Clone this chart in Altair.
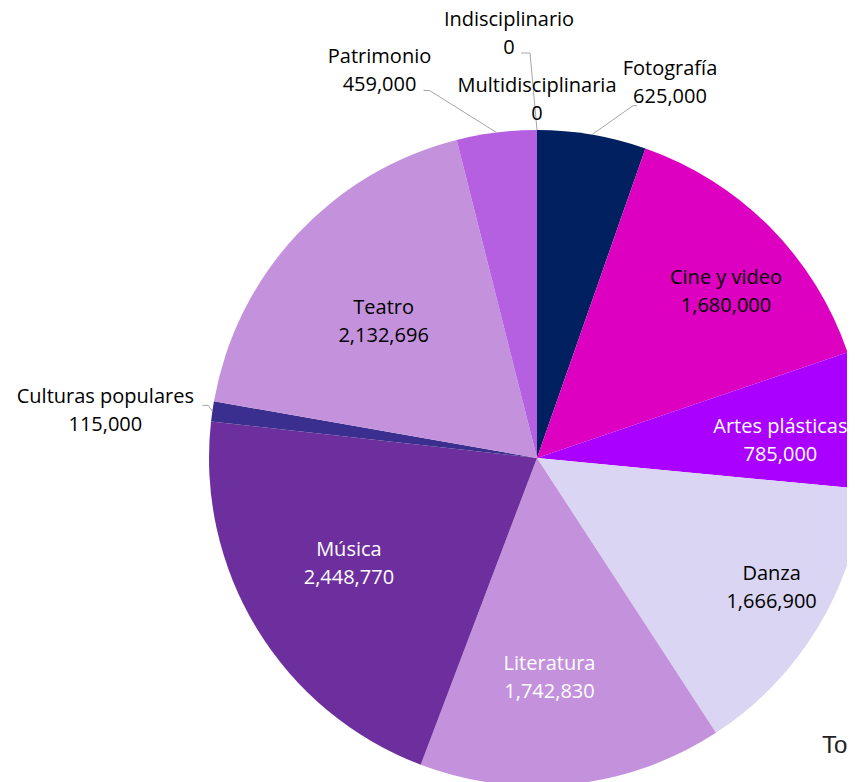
import altair as alt
import pandas as pd

categories = ["Fotografía", "Cine y video", "Artes plásticas", "Danza", "Literatura",
              "Música", "Culturas populares", "Teatro", "Patrimonio",
              "Multidisciplinaria", "Indisciplinario"]
values = [625000, 1680000, 785000, 1666900, 1742830, 2448770, 115000, 2132696, 459000, 0, 0]
slice_colors = ["#002060", "#DD00C0", "#AA00FF", "#DAD5F2", "#C492DC", "#6E2F9E",
                "#3A2F8E", "#C492DC", "#B560E0", "#8E44C8", "#7030A0"]

# inside label nudges (from a constant label radius) and colours
inside = {
    "Cine y video": ((20, 2), "black"),
    "Artes plásticas": ((7, 11), "white"),
    "Danza": ((31, 7), "black"),
    "Literatura": ((-13, -17), "white"),
    "Música": ((15, -18), "white"),
    "Teatro": ((21, 26), "black"),
}

# outside label placement (text offset, leader elbow, leader end) relative to slice edge
outside = {
    "Fotografía": ((78, -52), (41, -29), (45, -29)),
    "Patrimonio": ((-117, -62), (-67, -42), (-73, -42)),
    "Indisciplinario": ((-28, -96), (-7, -77), (-16, -77)),
    "Multidisciplinaria": ((0, -30), None, None),
    "Culturas populares": ((-107, 0), (-4, -6), (-10, -6)),
}

CX, CY, R = 529, 450, 328
R_IN = 238
FONT = "Open Sans"
FS = 20
LH = 28
ML = -LH / 2  # centre a two-line block

df = pd.DataFrame({"category": categories, "value": values, "order": list(range(len(categories)))})

base = alt.Chart(df).transform_window(
    cum="sum(value)", sort=[alt.SortField("order")], frame=[None, 0]
).transform_joinaggregate(total="sum(value)").transform_calculate(
    mid="(datum.cum - datum.value/2)/datum.total*2*PI",
    label="datum.category + '\\n' + format(datum.value, ',')",
    ex=f"{CX} + {R}*sin(datum.mid)",
    ey=f"{CY} - {R}*cos(datum.mid)",
    ix=f"{CX} + {R_IN}*sin(datum.mid)",
    iy=f"{CY} - {R_IN}*cos(datum.mid)",
)

pie = alt.Chart(df).mark_arc(radius=R).encode(
    theta=alt.Theta("value:Q", stack=True),
    order=alt.Order("order:Q"),
    color=alt.Color("category:N", scale=alt.Scale(domain=categories, range=slice_colors), legend=None),
    x=alt.value(CX),
    y=alt.value(CY),
)

layers = [pie]

for cat, ((ndx, ndy), col) in inside.items():
    layers.append(
        base.transform_filter(alt.FieldEqualPredicate(field="category", equal=cat))
        .mark_text(font=FONT, fontSize=FS, lineBreak="\n", lineHeight=LH,
                   align="center", baseline="middle", color=col,
                   dx=ndx, dy=ndy + ML)
        .encode(
            x=alt.X("ix:Q", scale=None, axis=None),
            y=alt.Y("iy:Q", scale=None, axis=None),
            text="label:N",
        )
    )

for cat, (toff, elbow, end) in outside.items():
    sel = base.transform_filter(alt.FieldEqualPredicate(field="category", equal=cat))
    if elbow is not None:
        for (a, b) in [((0, 0), elbow), (elbow, end)]:
            layers.append(
                sel.transform_calculate(
                    x1=f"datum.ex + {a[0]}", y1=f"datum.ey + {a[1]}",
                    x2=f"datum.ex + {b[0]}", y2=f"datum.ey + {b[1]}",
                ).mark_rule(color="#A6A6A6", strokeWidth=1).encode(
                    x=alt.X("x1:Q", scale=None, axis=None), y=alt.Y("y1:Q", scale=None, axis=None),
                    x2="x2:Q", y2="y2:Q",
                )
            )
    layers.append(
        sel.mark_text(font=FONT, fontSize=FS, lineBreak="\n", lineHeight=LH,
                      align="center", baseline="middle", color="black",
                      dx=toff[0], dy=toff[1] + ML).encode(
            x=alt.X("ex:Q", scale=None, axis=None),
            y=alt.Y("ey:Q", scale=None, axis=None),
            text="label:N",
        )
    )

total_text = alt.Chart(df).transform_aggregate(total="sum(value)").transform_calculate(
    t="'Total: ' + format(datum.total, ',')"
).mark_text(font="Liberation Sans", fontSize=24, align="left", baseline="alphabetic",
            color="#222222").encode(
    x=alt.value(814), y=alt.value(745), text="t:N"
)
layers.append(total_text)

chart = alt.layer(*layers).properties(
    width=839, height=774, padding=0,
    autosize=alt.AutoSizeParams(type="none"),
    background="white",
).configure_view(stroke=None)

chart.save("out.html", embed_options={"renderer": "svg", "actions": False})
